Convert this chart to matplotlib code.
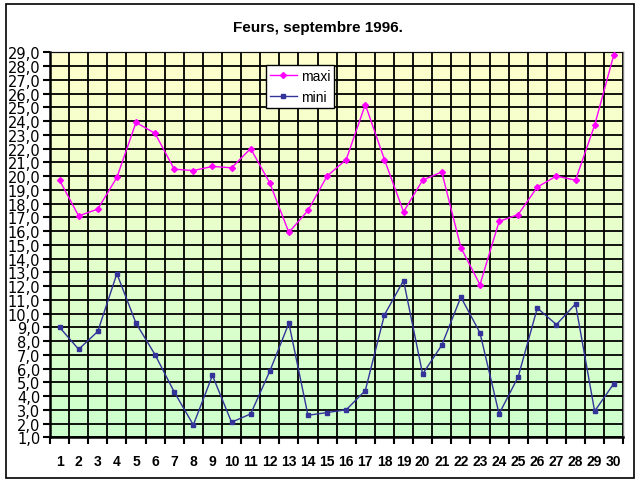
import numpy as np
import matplotlib
matplotlib.use("Agg")
import matplotlib.pyplot as plt
from matplotlib.patches import Rectangle
from matplotlib.ticker import FixedLocator

plt.rcParams['font.family'] = ['Liberation Sans', 'DejaVu Sans']

jours = list(range(1, 31))
maxi = [19.7, 17.1, 17.6, 19.9, 23.9, 23.1, 20.5, 20.4, 20.7, 20.6,
        22.0, 19.5, 15.9, 17.5, 20.0, 21.2, 25.2, 21.2, 17.4, 19.7,
        20.3, 14.8, 12.1, 16.7, 17.2, 19.2, 20.0, 19.7, 23.7, 28.8]
mini = [9.0, 7.4, 8.7, 12.9, 9.3, 7.0, 4.3, 1.9, 5.5, 2.1,
        2.7, 5.8, 9.3, 2.6, 2.8, 3.0, 4.4, 9.9, 12.4, 5.6,
        7.7, 11.2, 8.6, 2.7, 5.4, 10.4, 9.2, 10.7, 2.9, 4.9]

W, H = 641, 485
fig = plt.figure(figsize=(W / 100, H / 100), dpi=100)
fig.patch.set_facecolor('white')

# cadre exterieur
fig.patches.append(Rectangle((6 / W, 1 - 479 / H), 628 / W, 474 / H,
                             transform=fig.transFigure, fill=False,
                             edgecolor='black', linewidth=1.2))

ax = fig.add_axes([50 / W, 1 - 438.3 / H, 573.3 / W, 385 / H])

# fond degrade jaune -> vert
grad = np.linspace(0, 1, 256).reshape(-1, 1)
top = np.array([255, 255, 204]) / 255
bot = np.array([204, 255, 204]) / 255
img = top[None, None, :] * (1 - grad[:, :, None]) + bot[None, None, :] * grad[:, :, None]
ax.imshow(img, extent=[0, 1, 0, 1], transform=ax.transAxes, aspect='auto', zorder=0)

ax.set_xlim(0.5, 30.5)
ax.set_ylim(1, 29)

# grille
bornes = np.arange(0.5, 31, 1)
ax.xaxis.set_major_locator(FixedLocator(bornes))
ax.set_xticklabels([], minor=False)
ax.set_xticks(jours, [str(j) for j in jours], minor=True)
ax.tick_params(axis='x', which='major', length=5, width=1.5, direction='out')
ax.tick_params(axis='x', which='minor', length=0, pad=12, labelsize=10)
for lab in ax.get_xticklabels(minor=True):
    lab.set_fontweight('bold')

ax.set_yticks(np.arange(1, 30, 1))
ax.set_yticklabels([f"{v:.1f}".replace('.', ',') for v in np.arange(1, 30, 1)],
                   fontsize=10.5, family='DejaVu Sans')
ax.tick_params(axis='y', length=5, width=1.5, direction='out', pad=2)

ax.grid(True, which='major', color='black', linewidth=1.3, zorder=1)
ax.set_axisbelow(False)

for s in ['top', 'right']:
    ax.spines[s].set_color('#808080')
    ax.spines[s].set_linewidth(1)
for s in ['left', 'bottom']:
    ax.spines[s].set_color('black')
    ax.spines[s].set_linewidth(1.8)

ax.plot(jours, maxi, color='#FF00FF', marker='D', markersize=3, linewidth=1, label='maxi', zorder=3)
ax.plot(jours, mini, color='#333399', marker='s', markersize=3.5, linewidth=1, label='mini', zorder=3)

leg = ax.legend(loc='upper left', bbox_to_anchor=((266 - 50) / 573.3, (438.3 - 66) / 385),
                fontsize=10, frameon=True, fancybox=False, edgecolor='black',
                framealpha=1, borderpad=0.3, handlelength=1.9, labelspacing=0.5,
                handletextpad=0.3, borderaxespad=0)
leg.get_frame().set_linewidth(1)

fig.text(318 / W, 1 - 28 / H, 'Feurs, septembre 1996.', ha='center', va='center',
         fontsize=11, fontweight='bold')

fig.savefig('out.png', dpi=100)
